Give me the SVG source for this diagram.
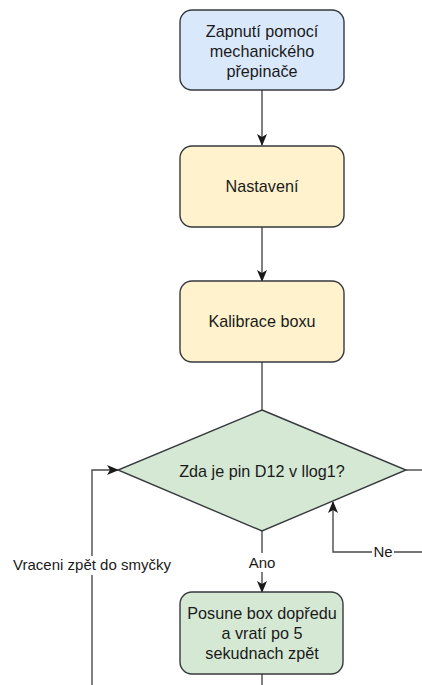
<svg xmlns="http://www.w3.org/2000/svg" width="422" height="685" viewBox="0 0 422 685">
<style>
  .node { stroke: #36393d; stroke-width: 1.4; }
  .blue { fill: #dae8fc; }
  .yellow { fill: #fff2cc; }
  .green { fill: #d5e8d4; }
  .t { font-family: "Liberation Sans", Arial, sans-serif; font-size: 16.2px; fill: #1a1a1a; text-anchor: middle; }
  .lbl { font-family: "Liberation Sans", Arial, sans-serif; font-size: 15px; fill: #1a1a1a; text-anchor: middle; }
  .edge { fill: none; stroke: #4a4a4a; stroke-width: 1.4; }
</style>
<defs>
  <marker id="arr" viewBox="0 0 12 10" refX="11" refY="5" markerWidth="12" markerHeight="10" markerUnits="userSpaceOnUse" orient="auto">
    <path d="M0,0 L12,5 L0,10 L3,5 Z" fill="#1a1a1a"/>
  </marker>
</defs>
<rect width="422" height="685" fill="#ffffff"/>
<g id="connectors">
  <line class="edge" x1="262" y1="90" x2="262" y2="145" marker-end="url(#arr)"/>
  <line class="edge" x1="262" y1="227" x2="262" y2="281" marker-end="url(#arr)"/>
  <line class="edge" x1="262" y1="362" x2="262" y2="410"/>
  <line class="edge" x1="262" y1="531" x2="262" y2="592" marker-end="url(#arr)"/>
  <line class="edge" x1="406" y1="470" x2="422" y2="470"/>
  <polyline class="edge" points="422,552 333,552 333,502" marker-end="url(#arr)"/>
  <polyline class="edge" points="92,685 92,470 118,470" marker-end="url(#arr)"/>
  <line class="edge" x1="262" y1="674" x2="262" y2="685"/>
  <g id="label-ano">
    <rect x="246" y="553" width="32" height="19" fill="#ffffff"/>
    <text class="lbl" x="262" y="568">Ano</text>
  </g>
  <g id="label-ne">
    <rect x="372" y="543" width="22" height="18" fill="#ffffff"/>
    <text class="lbl" x="383" y="557">Ne</text>
  </g>
  <g id="label-loop">
    <rect x="13" y="556" width="158" height="19" fill="#ffffff"/>
    <text class="lbl" x="92" y="570">Vraceni zpět do smyčky</text>
  </g>
</g>
<g id="start">
  <rect class="node blue" x="180" y="10" width="164" height="80" rx="12"/>
  <text class="t" x="262" y="37">Zapnutí pomocí</text>
  <text class="t" x="262" y="57">mechanického</text>
  <text class="t" x="262" y="77">přepinače</text>
</g>
<g id="setup">
  <rect class="node yellow" x="180" y="146" width="164" height="81" rx="12"/>
  <text class="t" x="262" y="192">Nastavení</text>
</g>
<g id="calibration">
  <rect class="node yellow" x="180" y="281" width="164" height="81" rx="12"/>
  <text class="t" x="262" y="327">Kalibrace boxu</text>
</g>
<g id="decision">
  <polygon class="node green" points="262,410 406,470 262,531 118,470"/>
  <text class="t" x="262" y="477">Zda je pin D12 v llog1?</text>
</g>
<g id="action">
  <rect class="node green" x="180" y="592" width="163" height="82" rx="12"/>
  <text class="t" x="262" y="619">Posune box dopředu</text>
  <text class="t" x="262" y="639">a vratí po 5</text>
  <text class="t" x="262" y="659">sekudnach zpět</text>
</g>
</svg>
